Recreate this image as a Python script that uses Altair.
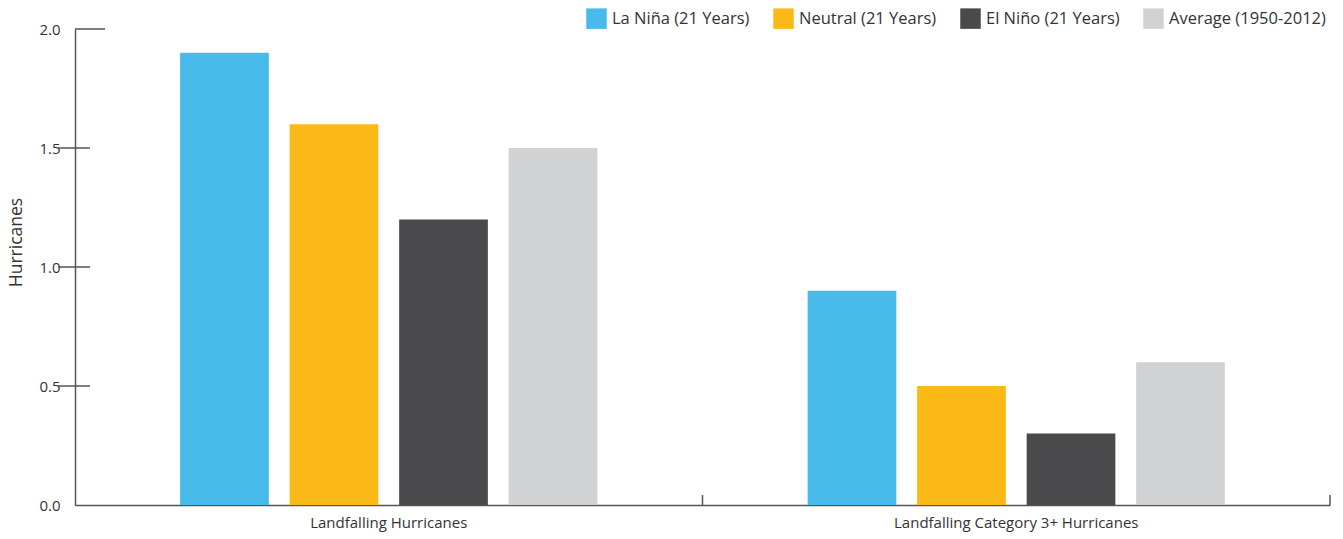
import altair as alt
import pandas as pd

# Landfalling hurricane averages by ENSO phase
categories = ["Landfalling Hurricanes", "Landfalling Category 3+ Hurricanes"]
series = ["La Niña (21 Years)", "Neutral (21 Years)", "El Niño (21 Years)", "Average (1950-2012)"]
colors = ["#48BBEB", "#FBB917", "#4A4A4C", "#D1D2D4"]
landfalling = [1.9, 1.6, 1.2, 1.5]
landfalling_cat3 = [0.9, 0.5, 0.3, 0.6]
y_ticks = [0.0, 0.5, 1.0, 1.5, 2.0]
inner_ticks = [0.5, 1.0, 1.5]

rows = []
for s, v in zip(series, landfalling):
    rows.append({"category": categories[0], "series": s, "value": v})
for s, v in zip(series, landfalling_cat3):
    rows.append({"category": categories[1], "series": s, "value": v})
df = pd.DataFrame(rows)

FONT = "Open Sans"
TEXT = "#333333"
AXIS = "#555555"
W, H = 1255, 476

x_enc = alt.X(
    "category:N",
    sort=categories,
    scale=alt.Scale(paddingInner=0, paddingOuter=0),
    axis=alt.Axis(
        title=None, ticks=False, labelAngle=0, labelFont=FONT, labelFontSize=15,
        labelColor=TEXT, labelPadding=10, labelLimit=0, domainColor=AXIS, domainWidth=1.5,
    ),
)
y_scale = alt.Scale(domain=[0, 2], nice=False)

bars = alt.Chart(df).mark_bar().encode(
    x=x_enc,
    xOffset=alt.XOffset(
        "series:N", sort=series,
        scale=alt.Scale(paddingInner=0.19, paddingOuter=0.96),
    ),
    y=alt.Y(
        "value:Q",
        scale=y_scale,
        axis=alt.Axis(
            title="Hurricanes", values=y_ticks, format=".1f", ticks=False, grid=False,
            labelFont=FONT, labelFontSize=15, labelColor=TEXT, labelPadding=15,
            domainColor=AXIS, domainWidth=1.5,
            titleFont=FONT, titleFontSize=17.5, titleFontWeight="normal", titleColor=TEXT,
            titleY=213, titlePadding=13,
        ),
    ),
    color=alt.Color(
        "series:N",
        sort=series,
        scale=alt.Scale(domain=series, range=colors),
        legend=alt.Legend(
            title=None, orient="none", direction="horizontal", legendX=511, legendY=-21,
            symbolType="square", symbolSize=420, symbolStrokeWidth=0, symbolOpacity=1,
            labelFont=FONT, labelFontSize=16.5, labelColor=TEXT, labelOffset=5,
            labelLimit=0, columnPadding=23,
        ),
    ),
)

# Ticks at the category boundaries, pointing up into the plot
cat_df = pd.DataFrame({"category": categories})
boundary_ticks = alt.Chart(cat_df).mark_rule(color=AXIS, strokeWidth=1.5).encode(
    x=alt.X("category:N", sort=categories, bandPosition=1),
    y=alt.value(H),
    y2=alt.value(H - 10),
)

# Value ticks crossing the y axis
tick_df = pd.DataFrame({"v": inner_ticks})
value_ticks = alt.Chart(tick_df).mark_rule(color=AXIS, strokeWidth=1.5).encode(
    y=alt.Y("v:Q", scale=y_scale),
    x=alt.value(-17),
    x2=alt.value(15),
)

top_df = pd.DataFrame({"v": [y_ticks[-1]]})
top_tick = alt.Chart(top_df).mark_rule(color=AXIS, strokeWidth=1.5).encode(
    y=alt.Y("v:Q", scale=y_scale),
    x=alt.value(0),
    x2=alt.value(30),
)

chart = (
    alt.layer(bars, boundary_ticks, value_ticks, top_tick)
    .properties(
        width=W, height=H,
        autosize=alt.AutoSizeParams(type="none"),
        padding={"left": 75, "top": 29, "right": 13, "bottom": 34},
        background="white",
    )
    .configure_view(stroke=None)
)

chart.save("out.html", embed_options={"renderer": "svg", "actions": False})
